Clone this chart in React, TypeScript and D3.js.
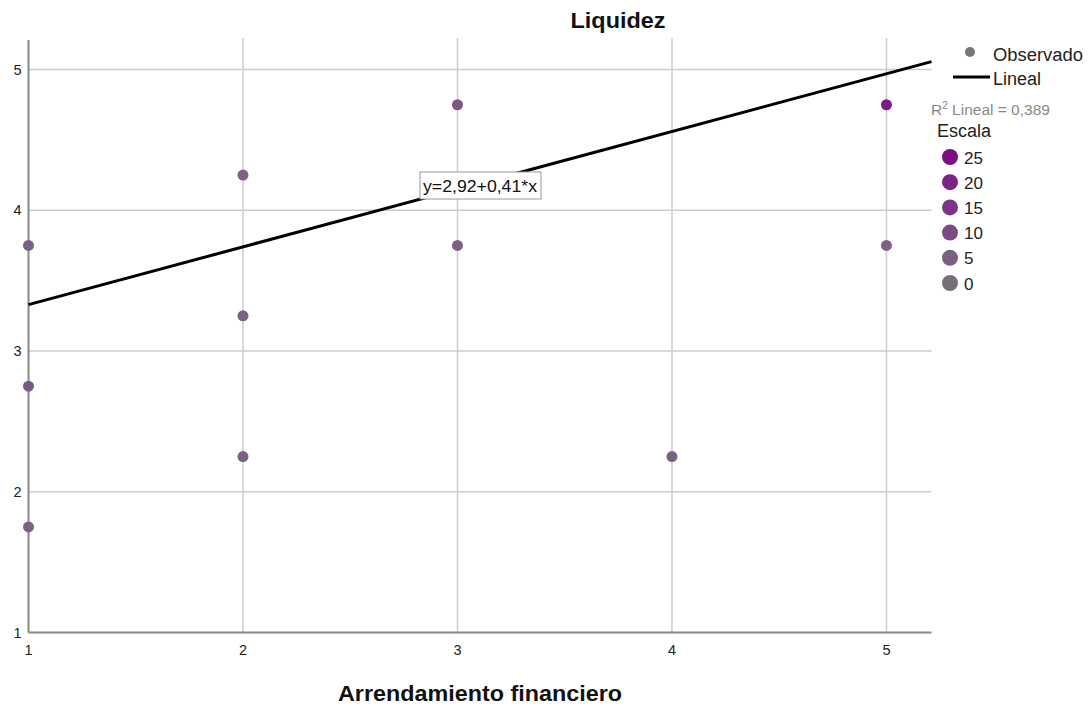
import React from "react";
import * as d3 from "d3";

const xValues = [1, 1, 1, 2, 2, 2, 3, 3, 4, 5, 5];
const yValues = [3.75, 2.75, 1.75, 4.25, 3.25, 2.25, 4.75, 3.75, 2.25, 4.75, 3.75];
const scaleValues = [5, 8, 5, 5, 5, 5, 8, 5, 5, 20, 5];
const xTicks = [1, 2, 3, 4, 5];
const yTicks = [1, 2, 3, 4, 5];
const legendScale = [25, 20, 15, 10, 5, 0];
const intercept = 2.92;
const slope = 0.41;
const r2 = "0,389";

const W = 1092;
const H = 707;
const left = 28.5;
const right = 931.5;
const top = 40;
const bottom = 632.5;

export default function App() {
  const x = d3.scaleLinear().domain([1, 5.21]).range([left, right]);
  const y = d3.scaleLinear().domain([1, 5.21]).range([bottom, top]);
  const colorScale = d3
    .scaleLinear<string>()
    .domain([0, 5, 10, 15, 20, 25])
    .range(["#767079", "#7b6082", "#7e4a85", "#7e3585", "#7d2285", "#7b0f80"]);
  const pointColor = (v: number) => {
    if (v === 8) return "#7d5886";
    if (v === 20) return "#7e1c86";
    return "#7b6282";
  };
  const lineData: [number, number][] = [1, 5.21].map((v) => [v, intercept + slope * v]);
  const line = d3
    .line<[number, number]>()
    .x((d) => x(d[0]))
    .y((d) => y(d[1]));
  const font = "'Liberation Sans', Arial, sans-serif";
  const eqX = 420;
  const eqY = 172;

  return (
    <svg
      width={W}
      height={H}
      style={{ position: "absolute", left: 0, top: 0, background: "#fff" }}
      fontFamily={font}
    >
      {/* grid */}
      {yTicks.slice(1).map((t) => (
        <line key={"gy" + t} x1={left} x2={right} y1={y(t)} y2={y(t)} stroke="#cccccc" strokeWidth={1.5} />
      ))}
      {xTicks.slice(1).map((t) => (
        <line key={"gx" + t} x1={x(t)} x2={x(t)} y1={top - 2} y2={bottom} stroke="#cccccc" strokeWidth={1.5} />
      ))}
      {/* axes */}
      <line x1={left} x2={left} y1={top} y2={bottom} stroke="#888" strokeWidth={2} />
      <line x1={left} x2={right} y1={bottom} y2={bottom} stroke="#888" strokeWidth={2} />
      {/* tick labels */}
      {yTicks.map((t) => (
        <text key={"ty" + t} x={left - 7} y={y(t) + 5} textAnchor="end" fontSize={14.5} fill="#222">
          {t}
        </text>
      ))}
      {xTicks.map((t) => (
        <text key={"tx" + t} x={x(t)} y={bottom + 22} textAnchor="middle" fontSize={14.5} fill="#222">
          {t}
        </text>
      ))}
      {/* points */}
      {xValues.map((xv, i) => (
        <circle key={"p" + i} cx={x(xv)} cy={y(yValues[i])} r={5.5} fill={pointColor(scaleValues[i])} />
      ))}
      {/* regression line */}
      <path d={line(lineData) || ""} stroke="#000" strokeWidth={3} fill="none" />
      {/* equation box */}
      <rect x={eqX} y={eqY} width={121} height={27} fill="#fff" stroke="#999" strokeWidth={1} />
      <text x={eqX + 3} y={eqY + 20} fontSize={16} fill="#111" textLength={114} lengthAdjust="spacingAndGlyphs">
        y=2,92+0,41*x
      </text>
      {/* titles */}
      <text x={618} y={28} textAnchor="middle" fontSize={22} fontWeight="bold" fill="#111" textLength={95} lengthAdjust="spacingAndGlyphs">
        Liquidez
      </text>
      <text x={480} y={701} textAnchor="middle" fontSize={22} fontWeight="bold" fill="#111" textLength={284} lengthAdjust="spacingAndGlyphs">
        Arrendamiento financiero
      </text>
      {/* legend */}
      <circle cx={970} cy={52} r={5} fill="#777" />
      <text x={993} y={61} fontSize={18} fill="#222" textLength={90} lengthAdjust="spacingAndGlyphs">Observado</text>
      <line x1={953} x2={990} y1={77} y2={77} stroke="#000" strokeWidth={3} />
      <text x={993} y={85} fontSize={18} fill="#222">Lineal</text>
      <text x={931} y={115} fontSize={15.5} fill="#888">
        R<tspan dy={-6} fontSize={10}>2</tspan>
        <tspan dy={6}> Lineal = {r2}</tspan>
      </text>
      <text x={937} y={137} fontSize={18} fill="#222">Escala</text>
      {legendScale.map((v, i) => (
        <g key={"ls" + v}>
          <circle cx={950} cy={157 + i * 25.2} r={8} fill={colorScale(v)} />
          <text x={964} y={163.5 + i * 25.2} fontSize={17} fill="#222">
            {v}
          </text>
        </g>
      ))}
    </svg>
  );
}
